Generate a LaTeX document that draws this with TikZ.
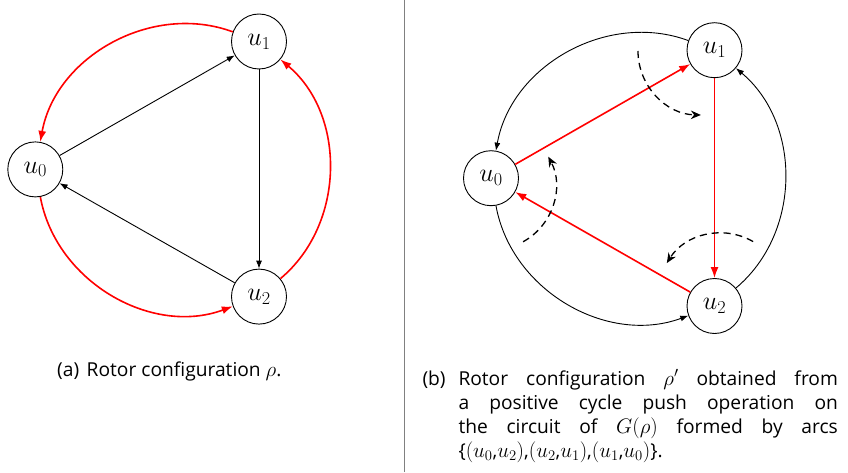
\RequirePackage{fix-cm}
\documentclass[tikz,border=0pt]{standalone}
\usepackage[no-math]{fontspec}
\setmainfont{Open Sans}
\usetikzlibrary{arrows.meta}
\newcommand\mth[1]{{\fontsize{21}{24}\selectfont$#1$}}
\tikzset{
  vtx/.style={circle, draw, line width=0.9pt, minimum size=55pt, inner sep=0pt, font=\fontsize{26}{30}\selectfont},
  blk/.style={line width=0.9pt, -{Latex[length=8pt,width=6pt]}},
  redarc/.style={red, line width=1.6pt, -{Latex[length=11pt,width=8pt]}},
  redln/.style={red, line width=1.6pt, -{Latex[length=11pt,width=8pt]}},
  dasharc/.style={line width=1.3pt, dash pattern=on 7pt off 5pt, -{Stealth[length=10pt,width=8.5pt]}},
  capt/.style={inner sep=0pt, font=\fontsize{19.2}{24}\selectfont},
}
\begin{document}
\begin{tikzpicture}[x=1pt,y=1pt]
\useasboundingbox (0,0) rectangle (848,472);
% divider
\draw[line width=1pt, black!50] (404.5,0) -- (404.5,472);
% left panel
\node[vtx] (a1) at (259,430.5) {$u_1$};
\node[vtx] (a0) at (35.3,302.6) {$u_0$};
\node[vtx] (a2) at (259,175.4) {$u_2$};
\draw[blk] (a0) -- (a1);
\draw[blk] (a1) -- (a2);
\draw[blk] (a2) -- (a0);
\draw[redarc] (a1) to[bend right=50] (a0);
\draw[redarc] (a0) to[bend right=50] (a2);
\draw[redarc] (a2) to[bend right=50] (a1);
% right panel
\node[vtx] (b1) at (714.5,421.8) {$u_1$};
\node[vtx] (b0) at (491,293.8) {$u_0$};
\node[vtx] (b2) at (714.5,166) {$u_2$};
\draw[blk] (b1) to[bend right=50] (b0);
\draw[blk] (b0) to[bend right=50] (b2);
\draw[blk] (b2) to[bend right=50] (b1);
\draw[redln] (b0) -- (b1);
\draw[redln] (b1) -- (b2);
\draw[redln] (b2) -- (b0);
% dashed rotation arcs
\draw[dasharc] (702,421) ++(180:64) arc[start angle=180, end angle=269, radius=64];
\draw[dasharc] (492.4,285.6) ++(-61:63.3) arc[start angle=-61, end angle=28, radius=63.3];
\draw[dasharc] (721.1,175) ++(60:64) arc[start angle=60, end angle=148, radius=64];
% captions
\node[capt, anchor=base west] (ca) at (57,96) {(a)\hspace{7.5pt}Rotor configuration \mth{\rho}.};
\node[capt, anchor=base west] (cbl) at (422.3,87) {(b)};
\node[capt, anchor=base west] (cb) at (458.3,87) {\parbox[t]{379.4pt}{\fontsize{19.2}{24}\selectfont
Rotor configuration \mth{\rho'} obtained from\linebreak
a positive cycle push operation on\linebreak
the circuit of \mth{G(\rho)} formed by arcs\linebreak
\{\mth{(u_0},\mth{u_2)},\mth{(u_2},\mth{u_1)},\mth{(u_1},\mth{u_0)}\}.}};
\end{tikzpicture}
\end{document}
